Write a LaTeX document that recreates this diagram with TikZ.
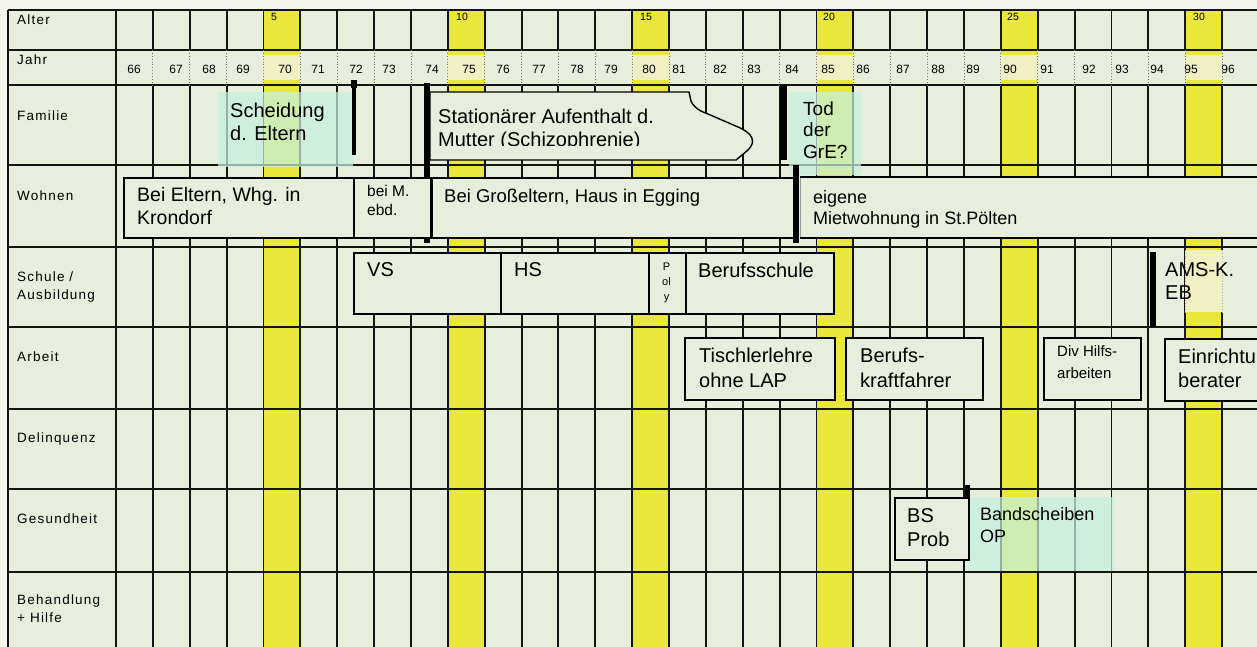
\documentclass[tikz,border=0pt]{standalone}
\usepackage{fontspec}
\setmainfont{Liberation Sans}
\newfontfamily\labfont[LetterSpace=9]{Liberation Sans}
\definecolor{bgc}{HTML}{E8EEDC}
\definecolor{marg}{HTML}{F4F6EE}
\definecolor{yel}{HTML}{E9E83A}
\definecolor{paleyel}{HTML}{EFEFC2}
\definecolor{cyanp}{HTML}{C4EFE0}
\begin{document}
\begin{tikzpicture}[x=1pt,y=-1pt,
  grid/.style={line width=1.9pt, black!92},
  jdot/.style={line width=0.9pt, black!55, dotted},
  cdot/.style={line width=0.8pt, black!35, dotted},
  boxst/.style={draw=black, line width=1.6pt, fill=bgc, inner sep=0, anchor=north west},
  barst/.style={fill=black, draw=none},
  txt/.style={anchor=north west, inner sep=0, align=left, font=\fontsize{20}{23}\selectfont},
  lab/.style={anchor=north west, inner sep=0, align=left, font=\labfont\fontsize{13.5}{18.5}\selectfont},
  yr/.style={inner sep=0, font=\fontsize{12}{14}\selectfont},
  agest/.style={inner sep=0, font=\fontsize{10.5}{12}\selectfont},
  cyanbox/.style={fill=cyanp, fill opacity=0.72, draw=none}
]
\useasboundingbox (0,0) rectangle (1257,647);
\clip (0,0) rectangle (1257,647);
\fill[marg] (0,0) rectangle (1257,647);
\fill[bgc] (8,10) rectangle (1270,660);
% yellow columns
\foreach \k in {4,9,14,19,24,29} {
  \fill[yel] ({116+36.87*\k},10) rectangle ({116+36.87*(\k+1)},660);
  \fill[paleyel] ({116+36.87*\k},55) rectangle ({116+36.87*(\k+1)},80);
}
% grid
\foreach \yy in {10,50,85,165,247,327,409,489,572} \draw[grid] (8,\yy) -- (1270,\yy);
\draw[grid] (8,10) -- (8,660);
\draw[grid] (116,10) -- (116,660);
\foreach \k in {1,...,30} {
  \draw[grid] ({116+36.87*\k},10) -- ({116+36.87*\k},50);
  \draw[grid] ({116+36.87*\k},85) -- ({116+36.87*\k},660);
  \draw[jdot] ({116+36.87*\k},50) -- ({116+36.87*\k},85);
}
% row labels
\node[lab] (lAlter) at (17,14.5) {Alter};
\node[lab] (lJahr) at (17,54.5) {Jahr};
\node[lab] (lFam) at (17,110.5) {Familie};
\node[lab] (lWohn) at (17,190.5) {Wohnen};
\node[lab] (lSchule) at (17,271.5) {Schule /\\Ausbildung};
\node[lab] (lArbeit) at (17,351.5) {Arbeit};
\node[lab] (lDel) at (17,432.5) {Delinquenz};
\node[lab] (lGes) at (17,513.5) {Gesundheit};
\node[lab] (lBeh) at (17,594.5) {Behandlung\\+ Hilfe};
% ages and years
\foreach \a/\xv in {5/274,10/462,15/646,20/829,25/1013,30/1199}
  \node[agest] (a\a) at (\xv,16.5) {\a};
\foreach \yv/\xv in {66/134,67/176,68/209,69/243,70/285,71/318,72/356,73/389,74/432,75/469,76/503,77/539,78/577,79/611,80/649,81/679,82/720,83/754,84/792,85/828,86/863,87/903,88/938,89/973,90/1010,91/1047,92/1089,93/1122,94/1157,95/1191,96/1228}
  \node[yr] (y\yv) at (\xv,69.5) {\yv};
% translucent boxes
\fill[cyanbox] (218,92) rectangle (353,167);
\foreach \xx in {227,263.5,300.4,337.2} \draw[cdot] (\xx,92) -- (\xx,167);
\draw[cdot] (218,165) -- (353,165);
\fill[cyanbox] (789,92) rectangle (861,175);
\draw[cdot] (816.5,92) -- (816.5,175);
\draw[cdot] (853.4,92) -- (853.4,175);
\draw[cdot] (789,165) -- (861,165);
\fill[cyanbox] (968,497) rectangle (1114,571);
\foreach \xx in {1000.9,1037.8,1074.6,1111.5} \draw[cdot] (\xx,497) -- (\xx,571);
\fill[paleyel] (1185,250) rectangle (1223,312);
\draw[cdot] (1185.2,250) -- (1185.2,312);
\draw[cdot] (1222,250) -- (1222,312);
% callout
\draw[line width=1.4pt, fill=bgc] (430,92) -- (689,92) -- (691,101)
  .. controls (694,108) and (700,111) .. (708,114) -- (738,127)
  .. controls (752,133) and (757,141) .. (748,150) -- (736,160) -- (430,160) -- cycle;
\begin{scope}
  \clip (430,95) rectangle (760,145.5);
  \node[txt] (tStat) at (438,108.5) {Stationärer Aufenthalt d.\\Mutter (Schizophrenie)};
\end{scope}
% bars
\fill[barst] (351.5,80) rectangle (355.5,155);
\fill[barst] (350.5,80) rectangle (356.5,88);
\fill[barst] (424,83) rectangle (430,243);
\fill[barst] (780,85) rectangle (787,160);
\fill[barst] (1150,252) rectangle (1155.5,327);
\fill[barst] (965,485) rectangle (970,497);
% Wohnen boxes
\node[boxst, minimum width=230pt, minimum height=60pt] (bEltern) at (123,177) {};
\node[boxst, minimum width=77pt, minimum height=60pt] (bBeiM) at (353,177) {};
\node[boxst, minimum width=362pt, minimum height=60pt] (bGross) at (431,177) {};
\node[boxst, draw=black!40, line width=1pt, minimum width=480pt, minimum height=60pt] (bEigene) at (800,177) {};
\draw[line width=1.6pt] (bEigene.north west) -- (bEigene.north east);
\draw[line width=1.6pt] (bEigene.south west) -- (bEigene.south east);
\fill[barst] (792.5,165) rectangle (799,243);
% Schule boxes
\node[boxst, minimum width=147pt, minimum height=61pt] (bVS) at (353,252) {};
\node[boxst, minimum width=148pt, minimum height=61pt] (bHS) at (500,252) {};
\node[boxst, minimum width=37pt, minimum height=61pt] (bPoly) at (648,252) {};
\node[boxst, minimum width=148pt, minimum height=61pt] (bBS) at (685,252) {};
% Arbeit boxes
\node[boxst, minimum width=150pt, minimum height=62pt] (bTisch) at (684,337) {};
\node[boxst, minimum width=137pt, minimum height=62pt] (bKraft) at (845,337) {};
\node[boxst, minimum width=97pt, minimum height=62pt] (bDiv) at (1043,337) {};
\node[boxst, minimum width=110pt, minimum height=62pt] (bEinr) at (1164,338) {};
% Gesundheit
\node[boxst, minimum width=74pt, minimum height=62pt] (bProb) at (894,497) {};
\draw[black, line width=1.2pt, dotted] (bProb.north east) -- (bProb.south east);
% texts
\node[txt] (tScheid) at (230,102.5) {Scheidung\\d. Eltern};
\node[txt, font=\fontsize{19}{21.5}\selectfont] (tTod) at (803,101.5) {Tod\\der\\GrE?};
\node[txt, font=\fontsize{19.5}{23}\selectfont] (tEltern) at (137,187.5) {Bei Eltern, Whg. in\\Krondorf};
\node[txt, font=\fontsize{15.5}{19}\selectfont] (tBeiM) at (367,185.5) {bei M.\\ebd.};
\node[txt, font=\fontsize{18.5}{22}\selectfont] (tGross) at (444,188.5) {Bei Großeltern, Haus in Egging};
\node[txt, font=\fontsize{18}{21}\selectfont] (tEigene) at (813,190.5) {eigene\\Mietwohnung in St.Pölten};
\node[txt] (tVS) at (367,262.5) {VS};
\node[txt] (tHS) at (514,262.5) {HS};
\node[anchor=north, inner sep=0, align=center, font=\fontsize{11}{15}\selectfont] (tPoly) at (666.5,263) {P\\ol\\y};
\node[txt] (tBerufsschule) at (698,262.5) {Berufsschule};
\node[txt, font=\fontsize{20}{22.5}\selectfont] (tAMS) at (1165,262.5) {AMS-K.\\EB};
\node[txt, font=\fontsize{20}{25}\selectfont] (tTisch) at (699,347.5) {Tischlerlehre\\ohne LAP};
\node[txt, font=\fontsize{20}{25}\selectfont] (tKraft) at (860,347.5) {Berufs-\\kraftfahrer};
\node[txt, font=\fontsize{15}{22}\selectfont] (tDiv) at (1057,345.5) {Div Hilfs-\\arbeiten};
\node[txt, font=\fontsize{20}{24}\selectfont] (tEinr) at (1178,348.5) {Einrichtu\\berater};
\node[txt, font=\fontsize{20}{23.5}\selectfont] (tProb) at (907,508.5) {BS\\Prob};
\node[txt, font=\fontsize{18}{22}\selectfont] (tBand) at (980,507.5) {Bandscheiben\\OP};
\end{tikzpicture}
\end{document}
